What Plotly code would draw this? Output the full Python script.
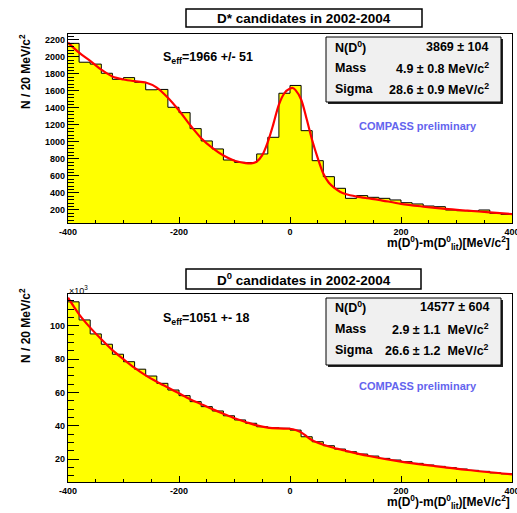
import plotly.graph_objects as go

W, H = 517, 513


def px(x):
    return x / W


def py(y):
    return 1 - y / H


FONT = "Liberation Sans, Arial, Helvetica, sans-serif"

# ---------------- data ----------------
bin_edges = list(range(-400, 401, 20))  # MeV/c^2, 20 MeV bins

dstar_counts = [2160, 1938, 1916, 1808, 1737, 1757, 1702, 1614, 1618, 1408,
                1345, 1157, 1012, 918, 788, 760, 758, 859, 1055, 1573,
                1665, 1133, 780, 592, 455, 337, 369, 349, 337, 318,
                286, 271, 247, 239, 200, 192, 188, 200, 161, 149]

d0_counts = [114.5, 103.6, 95.2, 89.0, 83.0, 78.5, 74.0, 69.9, 65.5, 61.5,
             58.1, 54.5, 51.5, 48.9, 46.0, 43.5, 41.5, 39.4, 38.8, 38.5,
             37.4, 33.4, 30.4, 28.0, 26.0, 24.4, 23.0, 21.8, 20.4, 19.4,
             18.4, 17.4, 16.4, 15.6, 14.8, 14.0, 13.2, 12.6, 11.7, 11.1]  # x10^3

dstar_fit_x = [-400, -380, -360, -340, -320, -300, -280, -260, -240, -220,
               -200, -180, -160, -140, -120, -100, -80, -70, -60, -50,
               -40, -30, -20, -10, 0, 5, 10, 20, 30, 40,
               50, 60, 70, 80, 90, 100, 120, 140, 160, 200,
               240, 280, 320, 360, 400]
dstar_fit_y = [2168, 2050, 1955, 1850, 1770, 1735, 1715, 1700, 1640, 1520,
               1370, 1200, 1045, 930, 840, 780, 752, 748, 768, 845,
               1000, 1210, 1440, 1575, 1628, 1635, 1610, 1500, 1270, 1020,
               810, 630, 520, 460, 415, 388, 358, 338, 320, 272,
               240, 213, 192, 172, 152]

d0_fit_x = [-400, -380, -360, -340, -320, -300, -280, -260, -240, -220,
            -200, -180, -160, -140, -120, -100, -80, -60, -40, -20,
            0, 10, 20, 30, 40, 60, 80, 100, 140, 200,
            260, 320, 400]
d0_fit_y = [117.0, 107.0, 99.0, 92.0, 85.5, 80.0, 74.8, 70.3, 66.5, 63.0,
            59.5, 56.0, 53.0, 50.0, 47.2, 44.5, 42.3, 40.2, 38.9, 38.4,
            38.2, 37.5, 36.0, 33.6, 31.3, 28.6, 26.6, 25.0, 22.0, 18.4,
            15.8, 13.4, 10.8]  # x10^3

x_tick_vals = [-400, -200, 0, 200, 400]
dstar_y_ticks = [200, 400, 600, 800, 1000, 1200, 1400, 1600, 1800, 2000, 2200]
d0_y_ticks = [20, 40, 60, 80, 100]

# ---------------- figure ----------------
fig = go.Figure()


def add_hist(counts, fit_x, fit_y, xa, ya):
    fig.add_trace(go.Scatter(
        x=bin_edges, y=counts + [counts[-1]], mode="lines", line_shape="hv",
        line=dict(color="black", width=1), fill="tozeroy", fillcolor="#ffff00",
        xaxis=xa, yaxis=ya, showlegend=False, hoverinfo="skip"))
    fig.add_trace(go.Scatter(
        x=fit_x, y=fit_y, mode="lines", line_shape="spline",
        line=dict(color="#ff0000", width=2.2, smoothing=0.9),
        xaxis=xa, yaxis=ya, showlegend=False, hoverinfo="skip"))


add_hist(dstar_counts, dstar_fit_x, dstar_fit_y, "x", "y")
add_hist(d0_counts, d0_fit_x, d0_fit_y, "x2", "y2")

xdom = [px(68), px(512)]
tickfont = dict(family=FONT, size=9, color="black")

common_x = dict(range=[-400, 400], domain=xdom, tickvals=x_tick_vals,
                ticktext=["<b>%d</b>" % v for v in x_tick_vals],
                ticks="inside", ticklen=6, tickwidth=1, tickcolor="black",
                minor=dict(dtick=50, tick0=0, ticks="inside", ticklen=3,
                           tickcolor="black", showgrid=False),
                showline=True, linecolor="black", linewidth=1.3, mirror=True,
                showgrid=False, zeroline=False, tickfont=tickfont,
                automargin=False, ticklabeloverflow="allow")

common_y = dict(ticks="inside", ticklen=11, tickwidth=1, tickcolor="black",
                showline=True, linecolor="black", linewidth=1.3, mirror=True,
                showgrid=False, zeroline=False, tickfont=tickfont,
                automargin=False, ticklabeloverflow="allow")

fig.update_layout(
    width=W, height=H, margin=dict(l=0, r=0, t=0, b=0, pad=0),
    paper_bgcolor="white", plot_bgcolor="white",
    font=dict(family=FONT, color="black"),
    xaxis=dict(anchor="y", **common_x),
    xaxis2=dict(anchor="y2", **common_x),
    yaxis=dict(range=[47, 2270], domain=[py(223), py(34)], anchor="x",
               tickvals=dstar_y_ticks,
               ticktext=["<b>%d</b>" % v for v in dstar_y_ticks],
               minor=dict(dtick=40, tick0=0, ticks="inside", ticklen=5.5,
                          tickcolor="black", showgrid=False),
               **common_y),
    yaxis2=dict(range=[6.2, 119.2], domain=[py(482), py(294)], anchor="x2",
                tickvals=d0_y_ticks,
                ticktext=["<b>%d</b>" % v for v in d0_y_ticks],
                minor=dict(dtick=5, tick0=0, ticks="inside", ticklen=5.5,
                           tickcolor="black", showgrid=False),
                **common_y),
)

shapes = []
annots = []


def text(x, y, s, size, xanchor="center", yanchor="middle", color="black", angle=0):
    annots.append(dict(x=px(x), y=py(y), xref="paper", yref="paper", text=s,
                       showarrow=False, xanchor=xanchor, yanchor=yanchor,
                       textangle=angle,
                       font=dict(family=FONT, size=size, color=color)))


def rect(x0, y0, x1, y1, fill, lw=1, lc="black"):
    shapes.append(dict(type="rect", xref="paper", yref="paper",
                       x0=px(x0), x1=px(x1), y0=py(y1), y1=py(y0),
                       fillcolor=fill, line=dict(color=lc, width=lw),
                       layer="above"))


# titles
rect(186, 9, 422, 27, "white", lw=1.5)
text(304, 18, "<b>D* candidates in 2002-2004</b>", 13.5)
rect(186, 269, 421, 289, "white", lw=1.5)
text(304, 279, "<b>D<sup>0</sup> candidates in 2002-2004</b>", 13.5)

# stats boxes
for (top, bot, rows) in [
    (37, 102, [("N(D<sup>0</sup>)", "3869 \u00b1 104", 47),
               ("Mass", "4.9 \u00b1 0.8 MeV/c<sup>2</sup>", 68),
               ("Sigma", "28.6 \u00b1 0.9 MeV/c<sup>2</sup>", 89)]),
    (298, 365, [("N(D<sup>0</sup>)", "14577 \u00b1 604", 307),
                ("Mass", "2.9 \u00b1 1.1  MeV/c<sup>2</sup>", 329),
                ("Sigma", "26.6 \u00b1 1.2  MeV/c<sup>2</sup>", 350)]),
]:
    rect(328, top + 2, 503, bot + 2, "#222222", lw=0, lc="#222222")
    rect(326, top, 501, bot, "#f0f0f0", lw=1)
    for lab, val, yy in rows:
        text(333, yy, "<b>%s</b>" % lab, 12.5, xanchor="left")
        text(491, yy, "<b>%s</b>" % val, 12.5, xanchor="right")

# COMPASS preliminary
text(418, 126, "<b>COMPASS preliminary</b>", 11, color="#6464ee")
text(418, 386, "<b>COMPASS preliminary</b>", 11, color="#6464ee")

# S_eff
text(161, 58, "<b>S<sub>eff</sub>=1966 +/- 51</b>", 12.5, xanchor="left")
text(161, 319, "<b>S<sub>eff</sub>=1051 +- 18</b>", 12.5, xanchor="left")

# axis titles
text(25, 72, "<b>N / 20 MeV/c<sup>2</sup></b>", 12, angle=-90)
text(25, 326, "<b>N / 20 MeV/c<sup>2</sup></b>", 12, angle=-90)
text(512, 243, "<b>m(D<sup>0</sup>)-m(D<sup>0</sup><sub>lit</sub>)[MeV/c<sup>2</sup>]</b>",
     12, xanchor="right")
text(512, 502, "<b>m(D<sup>0</sup>)-m(D<sup>0</sup><sub>lit</sub>)[MeV/c<sup>2</sup>]</b>",
     12, xanchor="right")

# x10^3 multiplier
text(67, 290, "\u00d710<sup>3</sup>", 9, xanchor="left")

fig.update_layout(shapes=shapes, annotations=annots)
fig.write_html("out.html",
               config={"displayModeBar": False},
               post_script="document.body.style.margin='0';"
                           "document.body.style.padding='0';"
                           "document.body.style.overflow='hidden';")
